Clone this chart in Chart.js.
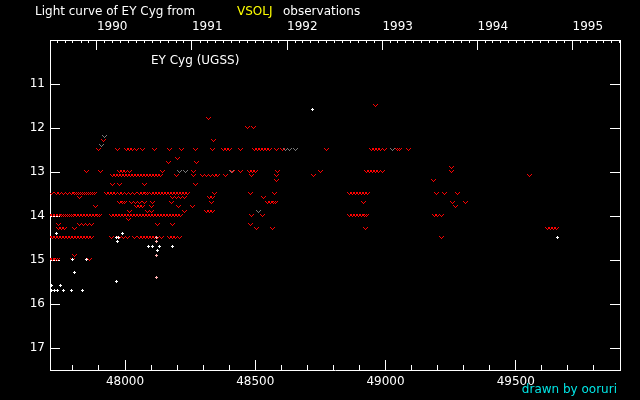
<!DOCTYPE html>
<html>
<head>
<meta charset="utf-8">
<script src="https://cdn.jsdelivr.net/npm/chart.js@4"></script>
<style>
  body { margin: 0; background: #000; }
  #wrap { position: relative; width: 640px; height: 400px; }
  .txt { position: absolute; font: 12px 'DejaVu Sans', sans-serif; color: #fff; white-space: nowrap; }
</style>
</head>
<body>
<div id="wrap">
  <canvas id="lc" width="640" height="400"></canvas>
  <div class="txt" style="left:35px;top:4px">Light curve of EY Cyg from</div>
  <div class="txt" style="left:237px;top:4px;color:#ffff00">VSOLJ</div>
  <div class="txt" style="left:283px;top:4px">observations</div>
  <div class="txt" style="left:151px;top:53px">EY Cyg (UGSS)</div>
  <div class="txt" style="right:23px;top:382px;color:#00e5e5">drawn by ooruri</div>
</div>
<script>
// 축 범위 (MJD, 등급)
const xMin = 47712, xMax = 49900;
const yMin = 10, yMax = 17.5;
const xMajor = [48000, 48500, 49000, 49500];
const yMajor = [11, 12, 13, 14, 15, 16, 17];
const years = [1990, 1991, 1992, 1993, 1994, 1995];

// 붉은 v 표시 (fainter than) : 등급별 관측일 목록
const redMags = [11.5, 11.8, 12.0, 12.3, 12.5, 12.7, 12.8, 12.9, 13.0, 13.1, 13.2, 13.3, 13.5, 13.6, 13.7, 13.8, 13.9, 14.0, 14.1, 14.2, 14.3, 14.5, 14.9, 15.0];
const redDates = [
    [48963],
    [48322],
    [48472, 48495],
    [47919, 48342],
    [47900, 47973, 48008, 48019, 48031, 48046, 48069, 48115, 48173, 48219, 48272, 48338, 48380, 48391, 48403, 48445, 48499, 48511, 48522, 48534, 48545, 48557, 48583, 48606, 48775, 48948, 48960, 48971, 48983, 48998, 49048, 49056, 49090],
    [48203],
    [48169, 48276],
    [49255],
    [47854, 47908, 47981, 47992, 48004, 48019, 48146, 48265, 48415, 48445, 48480, 48491, 48503, 48587, 48752, 48929, 48940, 48952, 48963, 48975, 48990, 49255],
    [47954, 47965, 47977, 47988, 48000, 48011, 48023, 48034, 48046, 48058, 48069, 48081, 48092, 48104, 48115, 48127, 48138, 48200, 48265, 48299, 48315, 48330, 48345, 48357, 48388, 48487, 48583, 48725, 49555],
    [48583, 49186],
    [47954, 47981, 48077, 48272],
    [47720, 47739, 47750, 47766, 47781, 47796, 47808, 47816, 47823, 47831, 47839, 47846, 47854, 47862, 47869, 47877, 47885, 47931, 47942, 47954, 47965, 47981, 47992, 48008, 48023, 48038, 48058, 48069, 48081, 48088, 48104, 48115, 48127, 48138, 48150, 48161, 48173, 48184, 48196, 48207, 48219, 48230, 48242, 48345, 48484, 48576, 48864, 48875, 48887, 48898, 48910, 48921, 48933, 49198, 49228, 49278],
    [47827, 48184, 48200, 48215, 48230, 48326, 48338, 48534],
    [47981, 47992, 48000, 48027, 48042, 48058, 48077, 48107, 48180, 48334, 48549, 48560, 48572, 48580, 48917, 49259, 49309],
    [47889, 48046, 48058, 48069, 48104, 48207, 48261, 49271],
    [48019, 48088, 48104, 48230, 48315, 48326, 48338],
    [47712, 47724, 47735, 47747, 47758, 47766, 47773, 47781, 47789, 47796, 47804, 47816, 47827, 47839, 47850, 47862, 47873, 47885, 47896, 47904, 47950, 47962, 47973, 47985, 47996, 48008, 48019, 48031, 48042, 48054, 48065, 48077, 48088, 48100, 48111, 48123, 48134, 48146, 48157, 48169, 48180, 48192, 48203, 48215, 48487, 48530, 48864, 48875, 48887, 48898, 48910, 48921, 48929, 49190, 49202, 49217],
    [48015],
    [47747, 47827, 47843, 47858, 47873, 48127, 48184, 48484],
    [47747, 47758, 47770, 47808, 48507, 48568, 48925, 49624, 49635, 49647, 49658],
    [47712, 47724, 47735, 47747, 47758, 47770, 47781, 47793, 47804, 47816, 47827, 47839, 47850, 47862, 47873, 47950, 47981, 47996, 48011, 48038, 48058, 48069, 48081, 48092, 48104, 48115, 48127, 48142, 48173, 48184, 48196, 48211, 49217],
    [47808],
    [47712, 47724, 47735, 47743, 47800, 47866]
];

// 회색 v 표시
const grayMags = [12.2, 12.4, 12.5, 13.0, 13.9];
const grayDates = [
    [47923],
    [47912],
    [48618, 48633, 48656, 49029],
    [48211, 48234, 48411],
    [48514]
];

// 흰색 + (실측)
const whiteJD = [47739, 47992, 47969, 47977, 47973, 48092, 48107, 48134, 48184, 48127, 47800, 47854, 47808, 47969, 47720, 47754, 47720, 47731, 47743, 47766, 47796, 47839, 48722, 49662];
const whiteMag = [14.4, 14.4, 14.5, 14.5, 14.6, 14.7, 14.7, 14.7, 14.7, 14.8, 15.0, 15.0, 15.3, 15.5, 15.6, 15.6, 15.7, 15.7, 15.7, 15.7, 15.7, 15.7, 11.6, 14.5];

// 분홍 + 
const pinkJD = [48123, 48123, 48123, 48123];
const pinkMag = [14.5, 14.6, 14.9, 15.4];

function rowsToPoints(mags, dates) {
    const pts = [];
    mags.forEach((m, i) => dates[i].forEach(d => pts.push({ x: d, y: m })));
    return pts;
}

function pairPoints(xs, ys) {
    return xs.map((x, i) => ({ x: x, y: ys[i] }));
}

function makeMark(color, cells, w, h) {
    const c = document.createElement('canvas');
    c.width = w; c.height = h;
    const g = c.getContext('2d');
    g.fillStyle = color;
    cells.forEach(p => g.fillRect(p[0], p[1], 1, 1));
    return c;
}

const vCells = [[0, 0], [4, 0], [1, 1], [3, 1], [2, 2]];
const plusCells = [[1, 0], [0, 1], [1, 1], [2, 1], [1, 2]];
const redV = makeMark('#ff0000', vCells, 6, 4);
const grayV = makeMark('#7a7a7a', vCells, 6, 4);
const whitePlus = makeMark('#ffffff', plusCells, 4, 4);
const pinkPlus = makeMark('#ffb0b0', plusCells, 4, 4);

function mjd(y, m) {
    return Date.UTC(y, m, 1) / 86400000 + 40587;
}

// 상단 축: 연도 시작 / 월 시작
const yearTicks = years.map(y => mjd(y, 0));
const monthTicks = [];
for (let y = 1989; y <= 1995; y++) {
    for (let m = 0; m < 12; m++) {
        const v = mjd(y, m);
        if (v > xMin && v < xMax) monthTicks.push(v);
    }
}
const minorX = [];
for (let v = 47800; v <= 49800; v += 100) minorX.push(v);

const fontTick = { family: "'DejaVu Sans', sans-serif", size: 12 };

const noSmooth = {
    id: 'noSmooth',
    beforeDatasetsDraw(chart) { chart.ctx.imageSmoothingEnabled = false; }
};

new Chart(document.getElementById('lc'), {
    type: 'scatter',
    data: {
        datasets: [
            { data: pairPoints(whiteJD, whiteMag), pointStyle: whitePlus, pointRadius: 2 },
            { data: pairPoints(pinkJD, pinkMag), pointStyle: pinkPlus, pointRadius: 2 },
            { data: rowsToPoints(redMags, redDates), pointStyle: redV, pointRadius: 2 },
            { data: rowsToPoints(grayMags, grayDates), pointStyle: grayV, pointRadius: 2 }
        ]
    },
    options: {
        responsive: false,
        animation: false,
        layout: { padding: 0 },
        plugins: { legend: { display: false }, title: { display: false }, tooltip: { enabled: false } },
        scales: {
            x: {
                type: 'linear', position: 'bottom', min: xMin, max: xMax,
                afterFit: s => { s.height = 30; },
                afterBuildTicks: s => { s.ticks = xMajor.map(v => ({ value: v })); },
                border: { color: '#fff', width: 1 },
                grid: { drawOnChartArea: false, tickLength: -10, color: '#fff' },
                ticks: { color: '#fff', font: fontTick, padding: 15, maxRotation: 0, autoSkip: false, callback: v => String(v) }
            },
            xMinor: {
                type: 'linear', position: { y: yMax }, min: xMin, max: xMax,
                afterBuildTicks: s => { s.ticks = minorX.map(v => ({ value: v })); },
                border: { display: false },
                grid: { drawOnChartArea: false, tickLength: -5, color: '#fff' },
                ticks: { display: false }
            },
            xTop: {
                type: 'linear', position: 'top', min: xMin, max: xMax,
                afterFit: s => { s.height = 40; },
                afterBuildTicks: s => { s.ticks = yearTicks.map(v => ({ value: v })); },
                border: { color: '#fff', width: 1 },
                grid: { drawOnChartArea: false, tickLength: -10, color: '#fff' },
                ticks: {
                    color: '#fff', font: fontTick, padding: 16, align: 'start', maxRotation: 0, autoSkip: false,
                    callback: (v, i) => String(years[i])
                }
            },
            xMonth: {
                type: 'linear', position: { y: yMin }, min: xMin, max: xMax,
                afterBuildTicks: s => { s.ticks = monthTicks.map(v => ({ value: v })); },
                border: { display: false },
                grid: { drawOnChartArea: false, tickLength: 3, color: '#fff' },
                ticks: { display: false }
            },
            y: {
                type: 'linear', position: 'left', min: yMin, max: yMax, reverse: true,
                afterFit: s => { s.width = 50; },
                afterBuildTicks: s => { s.ticks = yMajor.map(v => ({ value: v })); },
                border: { color: '#fff', width: 1 },
                grid: { drawOnChartArea: false, tickLength: -10, color: '#fff' },
                ticks: { color: '#fff', font: fontTick, padding: 15 }
            },
            y2: {
                type: 'linear', position: 'right', min: yMin, max: yMax, reverse: true,
                afterFit: s => { s.width = 20; },
                afterBuildTicks: s => { s.ticks = yMajor.map(v => ({ value: v })); },
                border: { color: '#fff', width: 1 },
                grid: { drawOnChartArea: false, tickLength: -10, color: '#fff' },
                ticks: { display: false }
            }
        }
    },
    plugins: [noSmooth]
});
</script>
</body>
</html>
